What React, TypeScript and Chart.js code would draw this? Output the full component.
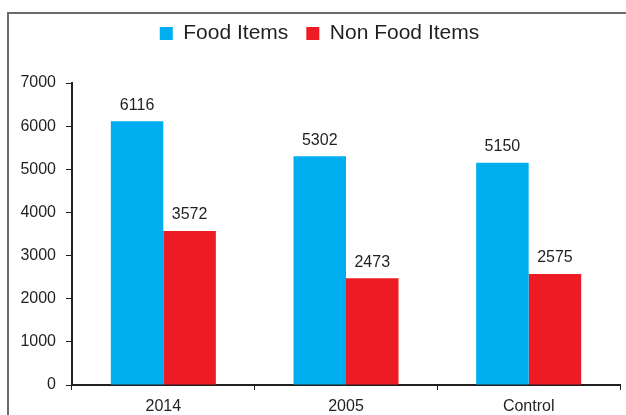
import { useEffect, useRef } from 'react';
import { Chart, registerables } from 'chart.js';

Chart.register(...registerables);

const categories = ['2014', '2005', 'Control'];
const seriesNames = ['Food Items', 'Non Food Items'];
const foodItems = [6116, 5302, 5150];
const nonFoodItems = [3572, 2473, 2575];
const yMin = 0;
const yMax = 7000;
const yStep = 1000;

const FONT = '"Liberation Sans", Arial, Helvetica, sans-serif';
const TEXT = '#231f20';

export default function App() {
  const ref = useRef<HTMLCanvasElement>(null);

  useEffect(() => {
    if (!ref.current) return;

    const frame = {
      id: 'frame',
      beforeDraw(chart: any) {
        const ctx = chart.ctx;
        ctx.save();
        ctx.strokeStyle = '#6b6b6b';
        ctx.lineWidth = 2;
        ctx.strokeRect(8, 13, 640, 430);
        ctx.restore();
      },
    };

    const legendSpace = {
      id: 'legendSpace',
      beforeLayout(chart: any) {
        const lg = chart.legend;
        if (lg && !lg.__patched) {
          const fit = lg.fit;
          lg.fit = function () {
            fit.call(this);
            this.height += 29;
          };
          lg.__patched = true;
        }
      },
    };

    const valueLabels = {
      id: 'valueLabels',
      afterDatasetsDraw(chart: any) {
        const ctx = chart.ctx;
        ctx.save();
        ctx.font = `16px ${FONT}`;
        ctx.fillStyle = TEXT;
        ctx.textAlign = 'center';
        ctx.textBaseline = 'alphabetic';
        chart.data.datasets.forEach((ds: any, i: number) => {
          const meta = chart.getDatasetMeta(i);
          meta.data.forEach((bar: any, j: number) => {
            ctx.fillText(String(ds.data[j]), bar.x, bar.y - 11.5);
          });
        });
        ctx.restore();
      },
    };

    const chart = new Chart(ref.current, {
      type: 'bar',
      data: {
        labels: categories,
        datasets: [
          {
            label: seriesNames[0],
            data: foodItems,
            backgroundColor: '#00AEEF',
            borderWidth: 0,
            categoryPercentage: 0.575,
            barPercentage: 1,
          },
          {
            label: seriesNames[1],
            data: nonFoodItems,
            backgroundColor: '#ED1C24',
            borderWidth: 0,
            categoryPercentage: 0.575,
            barPercentage: 1,
          },
        ],
      },
      options: {
        responsive: true,
        maintainAspectRatio: false,
        animation: false,
        layout: { padding: { left: 19, right: 6, top: 5, bottom: 0 } },
        plugins: {
          tooltip: { enabled: false },
          legend: {
            position: 'top',
            labels: {
              boxWidth: 13,
              boxHeight: 13,
              padding: 18,
              color: TEXT,
              font: { size: 21, family: FONT },
            },
          },
        },
        scales: {
          x: {
            grid: {
              display: true,
              drawOnChartArea: false,
              drawTicks: true,
              tickLength: 5,
              color: TEXT,
              lineWidth: 1,
              offset: true,
            },
            border: { display: true, color: TEXT, width: 2 },
            ticks: { color: TEXT, font: { size: 16, family: FONT }, padding: 7 },
            afterFit(s: any) {
              s.height = 30;
            },
          },
          y: {
            min: yMin,
            max: yMax,
            ticks: {
              stepSize: yStep,
              color: TEXT,
              font: { size: 16, family: FONT },
              padding: 10,
              callback: (v: any) => String(v),
            },
            grid: {
              display: true,
              drawOnChartArea: false,
              drawTicks: true,
              tickLength: 6,
              color: TEXT,
              lineWidth: 1,
            },
            border: { display: true, color: TEXT, width: 2 },
            afterFit(s: any) {
              s.width = 53;
            },
          },
        },
      },
      plugins: [frame, legendSpace, valueLabels],
    });

    return () => chart.destroy();
  }, []);

  return (
    <div style={{ position: 'fixed', left: 0, top: 0, width: 626, height: 415, background: '#fff' }}>
      <canvas ref={ref} />
    </div>
  );
}
